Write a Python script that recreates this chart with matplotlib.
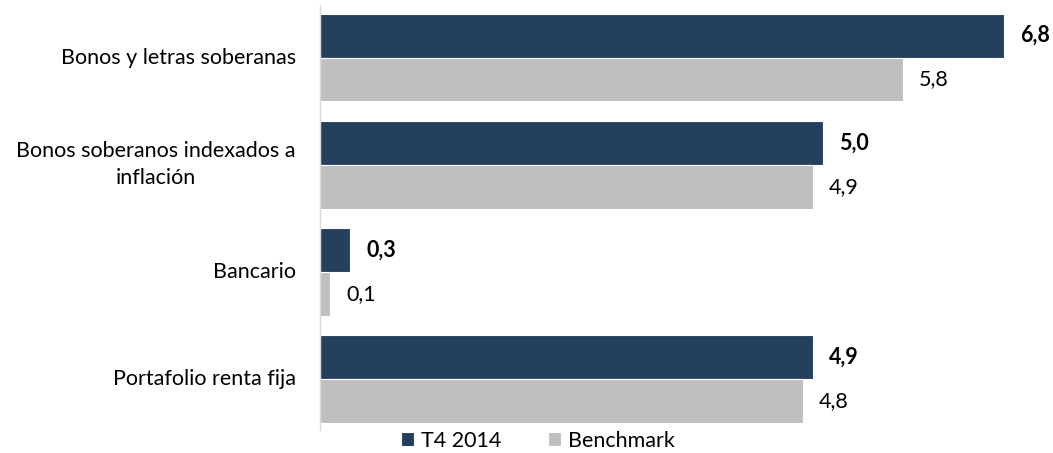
import matplotlib.pyplot as plt
import matplotlib.transforms as mtransforms
import numpy as np

categories = ["Bonos y letras soberanas",
              "Bonos soberanos indexados a\ninflación",
              "Bancario",
              "Portafolio renta fija"]
t4_2014 = [6.8, 5.0, 0.3, 4.9]
benchmark = [5.8, 4.9, 0.1, 4.8]

NAVY = "#253F5F"
GRAY = "#BFBFBF"
FS = 15.5

plt.rcParams['font.family'] = ['Lato', 'DejaVu Sans']

fig = plt.figure(figsize=(10.53, 4.53), dpi=100)
ax = fig.add_axes([320 / 1053, 23 / 453, 733 / 1053, 425 / 453])

y = np.arange(len(categories))
h = 0.41
ax.barh(y - h / 2, t4_2014, height=h, color=NAVY, edgecolor="white", linewidth=0.8, label="T4 2014")
ax.barh(y + h / 2, benchmark, height=h, color=GRAY, edgecolor="white", linewidth=0.8, label="Benchmark")

for yi, v in zip(y, t4_2014):
    ax.text(v + 0.16, yi - h / 2, f"{v:.1f}".replace(".", ","), va="center", ha="left",
            fontsize=FS, fontweight="bold", color="black")
for yi, v in zip(y, benchmark):
    ax.text(v + 0.16, yi + h / 2, f"{v:.1f}".replace(".", ","), va="center", ha="left",
            fontsize=FS, color="black")

# category labels (drawn as text so the two-line label can be centred)
trans = mtransforms.blended_transform_factory(ax.transAxes, ax.transData)
for yi, cat in zip(y, categories):
    ax.text(-24 / 733, yi, cat, transform=trans, ha="right", va="center",
            multialignment="center", linespacing=1.45, fontsize=FS, color="black")

ax.set_xlim(0, 7.29)
ax.set_ylim(3.475, -0.49)
ax.set_yticks([])
ax.set_xticks([])
for s in ["top", "right", "bottom"]:
    ax.spines[s].set_visible(False)
ax.spines["left"].set_color("#D9D9D9")
ax.spines["left"].set_linewidth(1)

fig.legend(loc="lower left", bbox_to_anchor=(382 / 1053, -0.038), ncol=2, frameon=False,
           fontsize=FS, handlelength=0.6, handleheight=0.6, handletextpad=0.3,
           columnspacing=2.2)

fig.savefig("out.png", dpi=100)
